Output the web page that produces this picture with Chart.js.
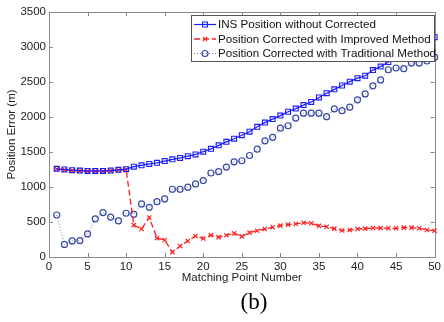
<!DOCTYPE html>
<html>
<head>
<meta charset="utf-8">
<script src="https://cdn.jsdelivr.net/npm/chart.js@4/dist/chart.umd.min.js"></script>
<style>
  html, body { margin: 0; padding: 0; background: #fff; }
  #wrap { width: 444px; height: 322px; position: relative; }
</style>
</head>
<body>
<div id="wrap"><canvas id="grafico" width="444" height="322"></canvas></div>
<script>
const puntos = [1, 2, 3, 4, 5, 6, 7, 8, 9, 10, 11, 12, 13, 14, 15, 16, 17, 18, 19, 20,
  21, 22, 23, 24, 25, 26, 27, 28, 29, 30, 31, 32, 33, 34, 35, 36, 37, 38, 39, 40,
  41, 42, 43, 44, 45, 46, 47, 48, 49, 50];

const sinCorregir = [1260, 1250, 1240, 1235, 1230, 1230, 1230, 1235, 1245, 1255,
  1290, 1310, 1330, 1345, 1370, 1395, 1415, 1440, 1465, 1505,
  1545, 1595, 1645, 1690, 1740, 1790, 1860, 1920, 1970, 2020,
  2075, 2120, 2170, 2215, 2280, 2340, 2395, 2450, 2505, 2555,
  2590, 2670, 2720, 2785, 2840, 2900, 2950, 3010, 3070, 3140];

const mejorado = [1255, 1245, 1235, 1230, 1225, 1225, 1225, 1230, 1240, 1250,
  455, 400, 565, 270, 243, 70, 157, 229, 300, 265,
  312, 284, 310, 338, 295, 348, 376, 400, 425, 448,
  462, 472, 490, 482, 445, 433, 405, 378, 386, 400,
  405, 415, 412, 410, 410, 420, 420, 410, 386, 376];

const tradicional = [600, 180, 230, 235, 330, 545, 635, 570, 515, 625,
  610, 758, 710, 790, 830, 968, 968, 997, 1044, 1092,
  1200, 1220, 1285, 1360, 1375, 1450, 1540, 1660, 1710, 1840,
  1875, 1985, 2055, 2055, 2055, 2005, 2115, 2090, 2140, 2245,
  2330, 2445, 2530, 2675, 2700, 2690, 2770, 2770, 2800, 2855];

const etiquetas = ['INS Position without Corrected',
  'Position Corrected with Improved Method',
  'Position Corrected with Traditional Method'];

const ticksX = [0, 5, 10, 15, 20, 25, 30, 35, 40, 45, 50];
const ticksY = [0, 500, 1000, 1500, 2000, 2500, 3000, 3500];

const aPuntos = serie => serie.map((v, i) => ({ x: puntos[i], y: v }));
const fuente = 'Arial, "Liberation Sans", sans-serif';
const colorEje = '#8a8a8a';

// caja, marcas interiores, titulos y leyenda al estilo MATLAB
const marcoMatlab = {
  id: 'marcoMatlab',
  beforeDatasetsDraw(chart) {
    const { ctx, chartArea: a, scales: { x, y } } = chart;
    ctx.save();
    ctx.strokeStyle = colorEje;
    ctx.lineWidth = 1;
    ctx.beginPath();
    ctx.rect(Math.round(a.left) + 0.5, Math.round(a.top) + 0.5,
      Math.round(a.right - a.left), Math.round(a.bottom - a.top));
    ticksX.forEach(t => {
      const px = Math.round(x.getPixelForValue(t)) + 0.5;
      ctx.moveTo(px, a.bottom); ctx.lineTo(px, a.bottom - 4);
      ctx.moveTo(px, a.top); ctx.lineTo(px, a.top + 4);
    });
    ticksY.forEach(t => {
      const py = Math.round(y.getPixelForValue(t)) + 0.5;
      ctx.moveTo(a.left, py); ctx.lineTo(a.left + 4, py);
      ctx.moveTo(a.right, py); ctx.lineTo(a.right - 4, py);
    });
    ctx.stroke();
    ctx.restore();
  },
  afterDraw(chart) {
    const { ctx, chartArea: a } = chart;
    ctx.save();
    ctx.fillStyle = '#222';
    ctx.font = '11.5px ' + fuente;
    ctx.textAlign = 'center';
    ctx.textBaseline = 'middle';
    ctx.fillText('Matching Point Number', (a.left + a.right) / 2, 278);
    ctx.save();
    ctx.translate(12, (a.top + a.bottom) / 2);
    ctx.rotate(-Math.PI / 2);
    ctx.fillText('Position Error (m)', 0, 0);
    ctx.restore();
    ctx.font = '23px "Liberation Serif", "Times New Roman", serif';
    ctx.fillStyle = '#000';
    ctx.fillText('(b)', 254, 303);

    // leyenda
    const caja = { x: 191.5, y: 15.5, w: 243, h: 46 };
    ctx.fillStyle = '#fff';
    ctx.fillRect(caja.x, caja.y, caja.w, caja.h);
    ctx.strokeStyle = '#555';
    ctx.lineWidth = 1;
    ctx.strokeRect(caja.x, caja.y, caja.w, caja.h);
    ctx.font = '11.6px ' + fuente;
    ctx.textAlign = 'left';
    chart.data.datasets.forEach((ds, i) => {
      const yy = 24.5 + i * 14.5;
      ctx.save();
      ctx.strokeStyle = ds.borderColor;
      ctx.lineWidth = ds.borderWidth;
      ctx.setLineDash(ds.borderDash || []);
      ctx.beginPath();
      ctx.moveTo(194, yy); ctx.lineTo(216, yy);
      ctx.stroke();
      ctx.setLineDash([]);
      ctx.strokeStyle = ds.pointBorderColor;
      ctx.fillStyle = 'rgba(0,0,0,0)';
      ctx.lineWidth = ds.pointBorderWidth;
      Chart.helpers.drawPoint(ctx, {
        pointStyle: ds.pointStyle, rotation: 0,
        radius: ds.pointRadius, borderWidth: ds.pointBorderWidth
      }, 205, yy);
      ctx.restore();
      ctx.fillStyle = '#111';
      ctx.fillText(etiquetas[i], 218, yy + 0.5);
    });
    ctx.restore();
  }
};

const ctx = document.getElementById('grafico').getContext('2d');
new Chart(ctx, {
  type: 'line',
  data: {
    datasets: [
      {
        label: etiquetas[0],
        data: aPuntos(sinCorregir),
        clip: false,
        borderColor: '#1a1aff',
        borderWidth: 1.2,
        pointStyle: 'rect',
        pointRadius: 3.5,
        pointBorderColor: '#1a1aff',
        pointBackgroundColor: 'rgba(0,0,0,0)',
        pointBorderWidth: 1.1
      },
      {
        label: etiquetas[1],
        data: aPuntos(mejorado),
        clip: false,
        borderColor: '#ff2020',
        borderWidth: 1.3,
        borderDash: [6, 3],
        pointStyle: 'crossRot',
        pointRadius: 3,
        pointBorderColor: '#ff2020',
        pointBackgroundColor: 'rgba(0,0,0,0)',
        pointBorderWidth: 1.2
      },
      {
        label: etiquetas[2],
        data: aPuntos(tradicional),
        clip: false,
        borderColor: '#6f7cc0',
        borderWidth: 1,
        borderDash: [1, 2],
        pointStyle: 'circle',
        pointRadius: 3,
        pointBorderColor: '#3848a6',
        pointBackgroundColor: 'rgba(0,0,0,0)',
        pointBorderWidth: 1.2
      }
    ]
  },
  options: {
    responsive: false,
    animation: false,
    devicePixelRatio: 1,
    layout: { padding: { left: 0, top: 12, right: 5, bottom: 0 } },
    plugins: { legend: { display: false }, tooltip: { enabled: false } },
    elements: { line: { tension: 0 } },
    scales: {
      x: {
        type: 'linear',
        min: 0, max: 50,
        afterFit: s => { s.height = 65; },
        afterBuildTicks: s => { s.ticks = ticksX.map(v => ({ value: v })); },
        grid: { display: false, drawTicks: false },
        border: { display: false },
        ticks: { padding: 3, color: '#222', font: { family: fuente, size: 11.5 }, maxRotation: 0,
          callback: v => String(v) }
      },
      y: {
        min: 0, max: 3500,
        afterFit: s => { s.width = 49; },
        afterBuildTicks: s => { s.ticks = ticksY.map(v => ({ value: v })); },
        grid: { display: false, drawTicks: false },
        border: { display: false },
        ticks: { padding: 3, color: '#222', font: { family: fuente, size: 11.5 },
          callback: v => String(v) }
      }
    }
  },
  plugins: [marcoMatlab]
});
</script>
</body>
</html>
